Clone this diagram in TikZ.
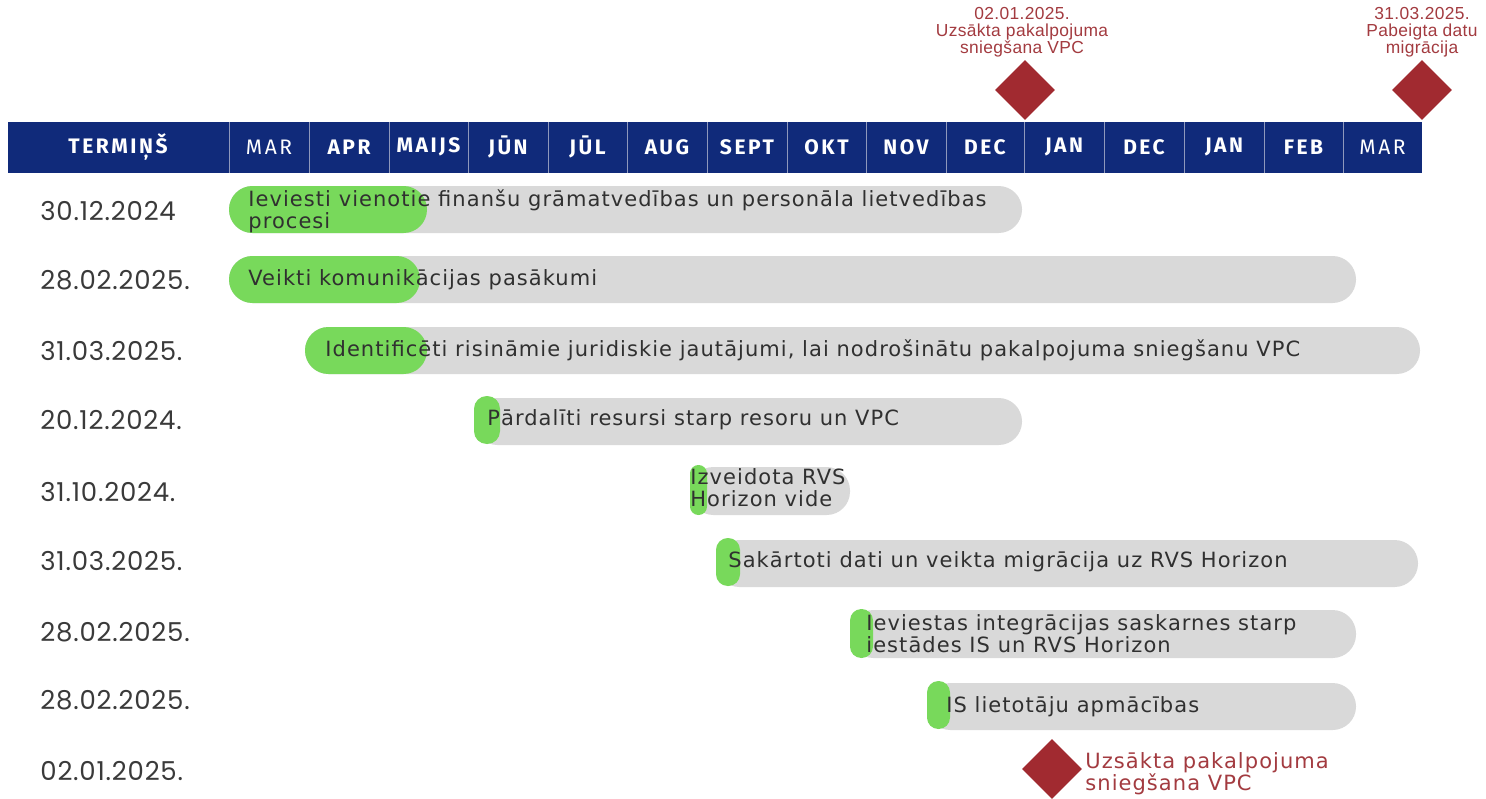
\documentclass[tikz,border=0pt]{standalone}
\usepackage{fontspec}
\usetikzlibrary{shapes.geometric}
\setmainfont{DejaVu Sans}
\newfontfamily\barfont[LetterSpace=5]{DejaVu Sans}
\newfontfamily\datefont[LetterSpace=3]{Poppins}
\newfontfamily\headfont[LetterSpace=12]{Fira Sans}
\newfontfamily\redfont[LetterSpace=2]{Liberation Sans}
\definecolor{navy}{HTML}{102A7A}
\definecolor{barg}{HTML}{D9D9D9}
\definecolor{grn}{HTML}{78D95B}
\definecolor{dred}{HTML}{A12A30}
\definecolor{tred}{HTML}{A33B40}
\definecolor{datec}{HTML}{3A3A3A}
\definecolor{barc}{HTML}{303030}
\definecolor{sep}{HTML}{8E98BC}
\tikzset{
  hd/.style={text=white,font=\headfont\bfseries\fontsize{10.5}{11}\selectfont,inner sep=0pt},
  hdl/.style={text=white,font=\headfont\fontsize{10.5}{11}\selectfont,inner sep=0pt},
  datelbl/.style={anchor=west,text=datec,font=\datefont\fontsize{13}{14}\selectfont,inner sep=0pt},
  bartxt/.style={anchor=west,text=barc,font=\barfont\fontsize{10.5}{11}\selectfont,inner sep=0pt,align=left},
  redlbl/.style={text=tred,font=\redfont\fontsize{8.7}{8.6}\selectfont,inner sep=0pt,align=center},
  redtxt/.style={anchor=west,text=tred,font=\barfont\fontsize{10.5}{11}\selectfont,inner sep=0pt,align=left},
  ms/.style={diamond,fill=dred,inner sep=0pt,minimum width=30pt,minimum height=30pt},
}
\newcommand\stad[6]{% x1 y1 x2 y2 color radius(pt)
  \fill[#5,rounded corners=#6] (#1,#2) rectangle (#3,#4);}
\begin{document}
\begin{tikzpicture}[x=0.5pt,y=-0.5pt]
\useasboundingbox (0,0) rectangle (1486,798);
\fill[white] (0,0) rectangle (1486,798);
% header bar
\fill[navy] (8,122) rectangle (1422,173);
\foreach \xx in {229,309,389,468,548,627,707,787,866,946,1024,1104,1184,1264,1343}
  \draw[sep,line width=0.5pt] (\xx,122) -- (\xx,173);
\node[hd] (h0) at (118,147) {TERMIŅŠ};
\node[hdl] (h1) at (269,147) {MAR};
\node[hd] (h2) at (349,147) {APR};
\node[hd] (h3) at (428.5,147) {MAIJS};
\node[hd] (h4) at (508,147) {JŪN};
\node[hd] (h5) at (587.5,147) {JŪL};
\node[hd] (h6) at (667,147) {AUG};
\node[hd] (h7) at (747,147) {SEPT};
\node[hd] (h8) at (826.5,147) {OKT};
\node[hd] (h9) at (906,147) {NOV};
\node[hd] (h10) at (985,147) {DEC};
\node[hd] (h11) at (1064,147) {JAN};
\node[hd] (h12) at (1144,147) {DEC};
\node[hd] (h13) at (1224,147) {JAN};
\node[hd] (h14) at (1303.5,147) {FEB};
\node[hdl] (h15) at (1382.5,147) {MAR};
% top milestones
\node[ms] (m1) at (1025,90) {};
\node[ms] (m2) at (1422,90) {};
\node[redlbl] (l1) at (1022,32) {02.01.2025.\\Uzsākta pakalpojuma\\sniegšana VPC};
\node[redlbl] (l2) at (1422,32) {31.03.2025.\\Pabeigta datu\\migrācija};
% dates
\node[datelbl] (d1) at (40,211) {30.12.2024};
\node[datelbl] (d2) at (40,280) {28.02.2025.};
\node[datelbl] (d3) at (40,351) {31.03.2025.};
\node[datelbl] (d4) at (40,420) {20.12.2024.};
\node[datelbl] (d5) at (40,492) {31.10.2024.};
\node[datelbl] (d6) at (40,561) {31.03.2025.};
\node[datelbl] (d7) at (40,632) {28.02.2025.};
\node[datelbl] (d8) at (40,700) {28.02.2025.};
\node[datelbl] (d9) at (40,771) {02.01.2025.};
% bars
\stad{229}{186}{1022}{233}{barg}{11.7pt}
\stad{229}{186}{427}{233}{grn}{11.7pt}
\stad{229}{256}{1356}{303}{barg}{11.7pt}
\stad{229}{256}{420}{303}{grn}{11.7pt}
\stad{305}{327}{1420}{374}{barg}{11.7pt}
\stad{305}{327}{427}{374}{grn}{11.7pt}
\stad{474}{398}{1022}{445}{barg}{11.7pt}
\stad{474}{396}{500}{444}{grn}{6.4pt}
\stad{690}{467}{850}{515}{barg}{11.7pt}
\stad{690}{465}{707}{515}{grn}{4.2pt}
\stad{716}{540}{1418}{587}{barg}{11.7pt}
\stad{716}{538}{740}{586}{grn}{5.9pt}
\stad{850}{610}{1356}{658}{barg}{11.7pt}
\stad{850}{609}{873}{658}{grn}{5.7pt}
\stad{927}{683}{1356}{730}{barg}{11.7pt}
\stad{927}{681}{950}{729}{grn}{5.7pt}
% bar texts
\node[bartxt] (t1) at (248,211) {Ieviesti vienotie finanšu grāmatvedības un personāla lietvedības\\procesi};
\node[bartxt] (t2) at (248,280) {Veikti komunikācijas pasākumi};
\node[bartxt] (t3) at (325,350) {Identificēti risināmie juridiskie jautājumi, lai nodrošinātu pakalpojuma sniegšanu VPC};
\node[bartxt] (t4) at (487,420) {Pārdalīti resursi starp resoru un VPC};
\node[bartxt] (t5) at (690,488) {Izveidota RVS\\Horizon vide};
\node[bartxt] (t6) at (728,562) {Sakārtoti dati un veikta migrācija uz RVS Horizon};
\node[bartxt] (t7) at (866,634) {Ieviestas integrācijas saskarnes starp\\iestādes IS un RVS Horizon};
\node[bartxt] (t8) at (946,707) {IS lietotāju apmācības};
% bottom milestone
\node[ms] (m3) at (1052,769) {};
\node[redtxt] (t9) at (1085,774) {Uzsākta pakalpojuma\\sniegšana VPC};
\end{tikzpicture}
\end{document}
